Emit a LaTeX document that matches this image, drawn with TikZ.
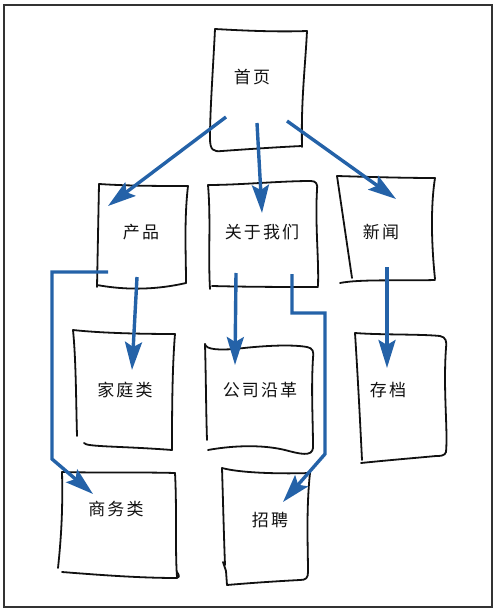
\documentclass[tikz,border=0pt]{standalone}
\usepackage{fontspec}
\newfontfamily\cjk[LetterSpace=12]{Noto Sans CJK SC}
\usetikzlibrary{arrows.meta}
\definecolor{arrblue}{HTML}{2462A8}
\definecolor{ink}{HTML}{111111}
\tikzset{
  sketch/.style={draw=ink, line width=1.8pt, line cap=round, line join=round},
  arr/.style={draw=arrblue, line width=3.4pt, -{Stealth[length=28pt, width=17pt, inset=5pt]}},
  lbl/.style={font=\cjk\fontsize{17pt}{19pt}\selectfont, text=ink, inner sep=0pt},
  frame/.style={draw=black!80, line width=2pt}
}
\begin{document}
\begin{tikzpicture}[x=1pt, y=-1pt]
\useasboundingbox (0,0) rectangle (501,612);
\draw[frame] (4,5) rectangle (492,607);

% ---- hand-drawn boxes ----
% 首页
\draw[sketch] (215,29) .. controls (250,31) and (280,32) .. (307,31);
\draw[sketch] (307,31) .. controls (305,70) and (301,100) .. (302,147);
\draw[sketch] (215,29) .. controls (213,70) and (210,110) .. (210,138) .. controls (210,150) and (213,152) .. (222,151) .. controls (250,149) and (280,147) .. (302,146);
% 产品
\draw[sketch] (99,184) .. controls (130,186) and (160,186) .. (188,186);
\draw[sketch] (188,186) .. controls (184,220) and (186,255) .. (186,283);
\draw[sketch] (99,184) -- (97,287);
\draw[sketch] (97,285) .. controls (130,291) and (160,289) .. (186,283);
% 关于我们
\draw[sketch] (208,185) .. controls (240,185) and (280,181) .. (311,181) .. controls (316,181) and (318,184) .. (317,190);
\draw[sketch] (317,190) .. controls (315,225) and (319,260) .. (318,286);
\draw[sketch] (208,185) .. controls (211,220) and (208,255) .. (210,289);
\draw[sketch] (212,286) .. controls (250,287) and (290,287) .. (318,287);
% 新闻
\draw[sketch] (337,176) .. controls (370,177) and (405,178) .. (435,178);
\draw[sketch] (435,178) .. controls (430,210) and (432,250) .. (435,279);
\draw[sketch] (337,176) -- (352,278);
\draw[sketch] (340,283) .. controls (360,279) and (400,281) .. (435,280);
% 家庭类
\draw[sketch] (73,330) .. controls (100,333) and (140,334) .. (175,334);
\draw[sketch] (175,334) .. controls (172,370) and (172,420) .. (172,450);
\draw[sketch] (73,330) .. controls (76,360) and (76,400) .. (77,436);
\draw[sketch] (84,443) .. controls (86,447) and (120,446) .. (172,450);
% 公司沿革
\draw[sketch] (205,344) .. controls (206,350) and (220,350) .. (235,349) .. controls (260,346) and (290,344) .. (307,347) .. controls (313,348) and (314,352) .. (313,358);
\draw[sketch] (313,358) .. controls (311,390) and (313,420) .. (313,448);
\draw[sketch] (205,344) .. controls (206,380) and (206,410) .. (207,440);
\draw[sketch] (208,450) .. controls (230,446) and (260,444) .. (285,450) .. controls (300,454) and (312,457) .. (313,448);
% 存档
\draw[sketch] (355,333) .. controls (380,335) and (420,334) .. (440,336) .. controls (446,337) and (447,342) .. (446,348);
\draw[sketch] (446,348) .. controls (443,390) and (448,430) .. (446,452) .. controls (445,456) and (440,456) .. (436,456);
\draw[sketch] (355,333) .. controls (358,380) and (360,420) .. (362,460);
\draw[sketch] (361,463) .. controls (390,460) and (415,458) .. (436,456);
% 商务类
\draw[sketch] (62,472) .. controls (100,473) and (140,472) .. (175,473);
\draw[sketch] (175,473) .. controls (177,510) and (175,550) .. (177,577);
\draw[sketch] (62,472) .. controls (63,510) and (61,540) .. (58,568);
\draw[sketch] (62,572) .. controls (100,575) and (140,578) .. (177,578) .. controls (179,578) and (180,576) .. (177,572);
% 招聘
\draw[sketch] (222,468) .. controls (240,473) and (280,474) .. (310,473);
\draw[sketch] (310,473) .. controls (306,510) and (308,550) .. (308,572) .. controls (308,578) and (306,580) .. (300,580);
\draw[sketch] (222,468) .. controls (223,500) and (224,540) .. (225,565);
\draw[sketch] (223,562) -- (226,571) -- (227,585) .. controls (250,583) and (280,581) .. (300,580);

% ---- labels ----
\node[lbl] (home)    at (252,77)  {首页};
\node[lbl] (product) at (141,232) {产品};
\node[lbl] (about)   at (262,232) {关于我们};
\node[lbl] (news)    at (381,232) {新闻};
\node[lbl] (family)  at (125,390) {家庭类};
\node[lbl] (history) at (260,390) {公司沿革};
\node[lbl] (archive) at (388,390) {存档};
\node[lbl] (business) at (116,509) {商务类};
\node[lbl] (jobs)    at (270,520) {招聘};

% ---- connector end points ----
\coordinate (h1) at (226,117);
\coordinate (h2) at (257,123);
\coordinate (h3) at (287,121);
\coordinate (p1) at (108,206);
\coordinate (a1) at (262,213);
\coordinate (n1) at (396,199);
\coordinate (pd) at (137,277);
\coordinate (pb) at (108,272);
\coordinate (fam) at (132,370);
\coordinate (bus) at (93,494);
\coordinate (ad1) at (236,273);
\coordinate (ad2) at (292,274);
\coordinate (his) at (235,365);
\coordinate (job) at (283,502);
\coordinate (nd) at (387,267);
\coordinate (arc) at (387,368);

% ---- connectors ----
\draw[arr] (h1) -- (p1);
\draw[arr] (h2) -- (a1);
\draw[arr] (h3) -- (n1);
\draw[arr] (pd) -- (fam);
\draw[arr, line join=miter] (pb) -- (52,272) -- (52,459) -- (bus);
\draw[arr] (ad1) -- (his);
\draw[arr, line join=miter] (ad2) -- (292,313) -- (325,313) -- (325,454) -- (job);
\draw[arr] (nd) -- (arc);
\end{tikzpicture}
\end{document}
